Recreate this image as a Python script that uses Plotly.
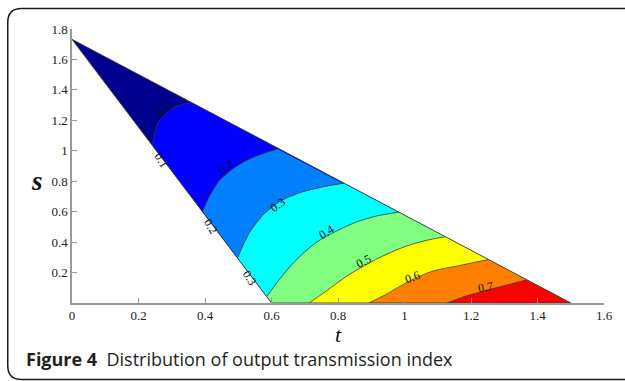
import plotly.graph_objects as go

# ---------------- data ----------------
# triangle domain vertices A, B, C
vertex_t = [0.0, 0.6, 1.5]
vertex_s = [1.732, 0.0, 0.0]

levels = [0.1, 0.2, 0.3, 0.4, 0.5, 0.6, 0.7]

c01_t = [0.242, 0.259, 0.284, 0.314, 0.359]
c01_s = [1.040, 1.183, 1.248, 1.292, 1.315]

c02_t = [0.393, 0.413, 0.443, 0.483, 0.523, 0.573, 0.618]
c02_s = [0.602, 0.700, 0.805, 0.880, 0.935, 0.981, 1.012]

c03_t = [0.498, 0.533, 0.573, 0.623, 0.683, 0.753, 0.818]
c03_s = [0.296, 0.460, 0.575, 0.665, 0.723, 0.762, 0.787]

c04_t = [0.586, 0.623, 0.673, 0.733, 0.793, 0.853, 0.913, 0.983]
c04_s = [0.043, 0.153, 0.280, 0.395, 0.470, 0.530, 0.570, 0.597]

c05_t = [0.713, 0.763, 0.833, 0.913, 1.003, 1.083, 1.123]
c05_s = [0.000, 0.076, 0.186, 0.285, 0.372, 0.420, 0.435]

c06_t = [0.893, 0.943, 1.013, 1.083, 1.163, 1.213, 1.252]
c06_s = [0.000, 0.055, 0.142, 0.208, 0.245, 0.268, 0.285]

c07_t = [1.128, 1.183, 1.252, 1.312, 1.367]
c07_s = [0.000, 0.044, 0.087, 0.120, 0.152]

contours_t = [c01_t, c02_t, c03_t, c04_t, c05_t, c06_t, c07_t]
contours_s = [c01_s, c02_s, c03_s, c04_s, c05_s, c06_s, c07_s]

# contour label positions / angles
label_text = ["0.1", "0.2", "0.3", "0.4", "0.5", "0.6", "0.7"]
label_t = [0.278, 0.462, 0.618, 0.765, 0.878, 1.025, 1.243]
label_s = [1.265, 0.896, 0.646, 0.464, 0.278, 0.171, 0.105]
label_angle = [-35, -40, -35, -32, -27, -20, -10]

# labels along left edge
edge_label_text = ["0.1", "0.2", "0.3"]
edge_label_t = [0.268, 0.416, 0.534]
edge_label_s = [0.939, 0.503, 0.164]

fill_colors = ["#00008F", "#0000FF", "#0080FF", "#00FFFF",
               "#80FF80", "#FFFF00", "#FF8000", "#FF0000"]

x_ticks = [0, 0.2, 0.4, 0.6, 0.8, 1.0, 1.2, 1.4, 1.6]
y_ticks = [0.2, 0.4, 0.6, 0.8, 1.0, 1.2, 1.4, 1.6, 1.8]

# ---------------- figure ----------------
fig = go.Figure()
B = (vertex_t[1], vertex_s[1])
C = (vertex_t[2], vertex_s[2])

# base region (lowest level)
fig.add_trace(go.Scatter(x=vertex_t + [vertex_t[0]], y=vertex_s + [vertex_s[0]],
                         fill="toself", fillcolor=fill_colors[0], mode="lines",
                         line=dict(width=0, color=fill_colors[0]), hoverinfo="skip",
                         showlegend=False))
# superlevel regions stacked
for i, (ct, cs) in enumerate(zip(contours_t, contours_s)):
    if cs[0] > 0:  # starts on left edge -> close via C then B
        pt = ct + [C[0], B[0], ct[0]]
        ps = cs + [C[1], B[1], cs[0]]
    else:          # starts on bottom edge -> close via C
        pt = ct + [C[0], ct[0]]
        ps = cs + [C[1], cs[0]]
    fig.add_trace(go.Scatter(x=pt, y=ps, fill="toself", fillcolor=fill_colors[i + 1],
                             mode="lines", line=dict(width=0, color=fill_colors[i + 1]),
                             hoverinfo="skip", showlegend=False))

# contour lines
for ct, cs in zip(contours_t, contours_s):
    fig.add_trace(go.Scatter(x=ct, y=cs, mode="lines",
                             line=dict(width=0.8, color="#3a3a3a", shape="spline"),
                             hoverinfo="skip", showlegend=False))
# domain outline
fig.add_trace(go.Scatter(x=vertex_t + [vertex_t[0]], y=vertex_s + [vertex_s[0]],
                         mode="lines", line=dict(width=0.9, color="#3a3a3a"),
                         hoverinfo="skip", showlegend=False))

ML, MR, MT, MB = 72, 19, 29, 78
W, H = 625, 381
PW, PH = W - ML - MR, H - MT - MB


def px2paper(px, py):
    return (px - ML) / PW, (H - MB - py) / PH


serif = "Liberation Serif, Times New Roman, serif"
annotations = []
for txt, t, s, ang in zip(label_text, label_t, label_s, label_angle):
    annotations.append(dict(x=t, y=s, xref="x", yref="y", text=txt, showarrow=False,
                            textangle=ang, font=dict(family=serif, size=12, color="#111")))
for txt, t, s in zip(edge_label_text, edge_label_t, edge_label_s):
    annotations.append(dict(x=t, y=s, xref="x", yref="y", text=txt, showarrow=False,
                            textangle=58, font=dict(family=serif, size=12, color="#111")))

# axis titles
tx, ty = px2paper(340, 334)
annotations.append(dict(x=tx, y=ty, xref="paper", yref="paper", text="<i>t</i>",
                        showarrow=False, xanchor="center", yanchor="middle",
                        font=dict(family=serif, size=22, color="#111")))
sx, sy = px2paper(37, 181)
annotations.append(dict(x=sx, y=sy, xref="paper", yref="paper", text="<i><b>s</b></i>",
                        showarrow=False, xanchor="center", yanchor="middle",
                        font=dict(family=serif, size=27, color="#111")))
# caption
cx, cy = px2paper(24, 359)
annotations.append(dict(x=cx, y=cy, xref="paper", yref="paper",
                        text="<b>Figure 4</b>\u00a0\u00a0Distribution of output transmission index",
                        showarrow=False, xanchor="left", yanchor="middle",
                        font=dict(family="Open Sans, sans-serif", size=18, color="#231F20")))

# rounded border frame (left corners rounded, right/bottom run off the page)
x0, y0 = px2paper(7.5, 8.5)
x1, y1 = px2paper(640, 379.5)
rx = 14 / PW
ry = 14 / PH
path = (f"M {x0+rx},{y0} L {x1},{y0} L {x1},{y1} L {x0+rx},{y1} "
        f"Q {x0},{y1} {x0},{y1+ry} L {x0},{y0-ry} Q {x0},{y0} {x0+rx},{y0} Z")

axis_common = dict(ticks="inside", ticklen=5, tickcolor="#999", tickwidth=1,
                   showline=True, linecolor="#999", linewidth=1.5, showgrid=False,
                   zeroline=False, tickfont=dict(family=serif, size=13, color="#222"))

fig.update_layout(
    width=W, height=H,
    margin=dict(l=ML, r=MR, t=MT, b=MB),
    paper_bgcolor="white", plot_bgcolor="white",
    annotations=annotations,
    shapes=[dict(type="path", path=path, xref="paper", yref="paper",
                 line=dict(color="#1a1a1a", width=1.5), fillcolor="rgba(0,0,0,0)",
                 layer="below")],
    xaxis=dict(range=[0, 1.6], tickvals=x_ticks, ticktext=[("%g" % v) for v in x_ticks],
               **axis_common),
    yaxis=dict(range=[0, 1.8], tickvals=y_ticks, ticktext=[("%g" % v) for v in y_ticks],
               **axis_common),
)

fig.write_html("out.html", config={"displayModeBar": False},
               post_script="document.body.style.margin='0';document.body.style.overflow='hidden';")
